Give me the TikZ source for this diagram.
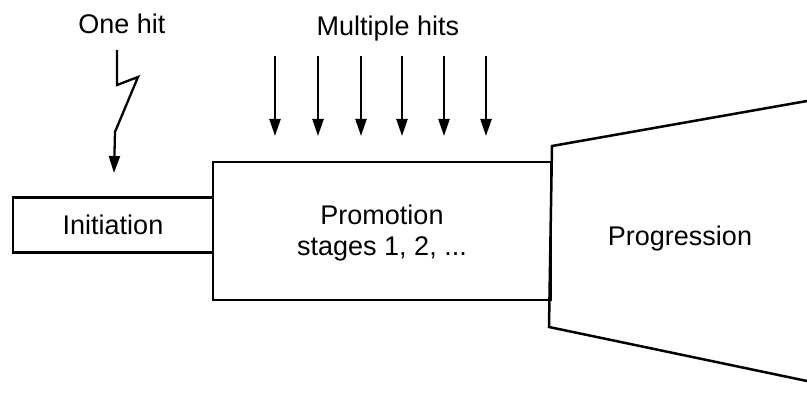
\documentclass[tikz,border=0pt]{standalone}
\usepackage{fontspec}
\setmainfont{Liberation Sans}
\usetikzlibrary{arrows.meta}
\begin{document}
\begin{tikzpicture}[x=1pt,y=-1pt,
  line width=2.5pt, line join=miter,
  lbl/.style={font=\fontsize{27}{32}\selectfont, inner sep=0pt, align=center},
  stagebox/.style={draw, line width=2.5pt, inner sep=0pt, outer sep=0pt},
  hit/.style={-{Triangle[length=17pt,width=11pt]}, line width=2.3pt}]
\useasboundingbox (0,0) rectangle (807,393);
% labels
\node[lbl] (onehit) at (122,24) {One hit};
\node[lbl] (multi) at (388,29) {Multiple hits};
% progression trapezoid
\coordinate (pTL) at (552,146);
\coordinate (pBL) at (549,327);
\coordinate (pTR) at (807,101);
\coordinate (pBR) at (807,381);
\draw (pTR) -- (pTL) -- (pBL) -- (pBR);
\node[lbl] (prog) at (680,239) {Progression};
% promotion box
\node[stagebox, minimum width=338pt, minimum height=138pt] (promo) at (382,231) {};
\node[lbl] at (382,233) {Promotion\\[-1pt]stages 1, 2, ...};
% initiation box
\node[stagebox, minimum width=200pt, minimum height=55pt, anchor=east] (init) at (promo.west |- 0,225) {};
\node[lbl] at (init.center) {Initiation};
% lightning
\coordinate (l0) at (117,50);
\coordinate (l1) at (117,85);
\coordinate (l2) at (138,77);
\coordinate (l3) at (115,132);
\coordinate (l4) at (114,173);
\draw[hit] (l0) -- (l1) -- (l2) -- (l3) -- (l4);
% multiple hit arrows
\foreach \i/\x in {1/275,2/318,3/361,4/402,5/444,6/486}{
  \coordinate (h\i a) at (\x,56);
  \coordinate (h\i b) at (\x,136);
  \draw[hit] (h\i a) -- (h\i b);
}
\end{tikzpicture}
\end{document}
